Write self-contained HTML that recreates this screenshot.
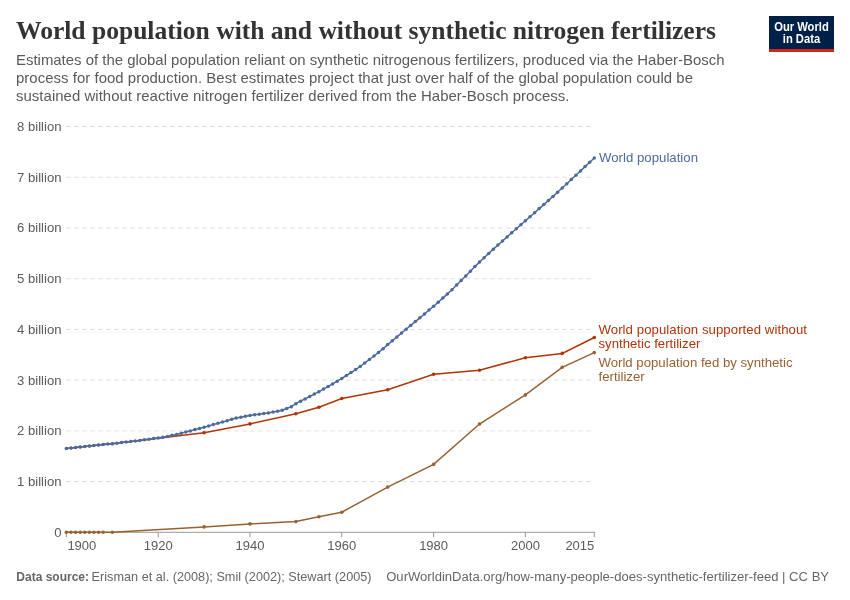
<!DOCTYPE html>
<html><head><meta charset="utf-8">
<style>
html,body{margin:0;padding:0;background:#fff;width:850px;height:600px;overflow:hidden;position:relative}
#wrap{position:absolute;left:0;top:0;width:850px;height:600px;will-change:transform}
.t{position:absolute;white-space:pre;line-height:1}
#title{left:16px;top:18.2px;font-family:"Liberation Serif",serif;font-weight:bold;font-size:25.55px;color:#333333}
#sub{left:16px;top:51.4px;font-family:"Liberation Sans",sans-serif;font-size:14.95px;color:#5b5b5b;line-height:17.8px}
#logo{position:absolute;left:769px;top:16px;width:65px;height:36px;background:#002147}
#logo .bar{position:absolute;left:0;bottom:0;width:100%;height:3px;background:#ce261e}
#logo .tx{position:absolute;left:0;top:4.6px;width:100%;text-align:center;font-family:"Liberation Sans",sans-serif;font-weight:bold;font-size:12px;line-height:12.2px;color:#fff;transform:scaleX(0.935);transform-origin:50% 0}
#footb{left:16.3px;top:570.6px;font-family:"Liberation Sans",sans-serif;font-weight:bold;font-size:12px;color:#666}
#foot{left:91.6px;top:571px;font-family:"Liberation Sans",sans-serif;font-size:12.7px;color:#666}
#foot2{left:386.2px;top:570px;font-family:"Liberation Sans",sans-serif;font-size:13.08px;color:#666}
</style></head><body><div id="wrap">
<svg width="850" height="600" viewBox="0 0 850 600" style="position:absolute;left:0;top:0">
<g stroke="#dddddd" stroke-width="1" stroke-dasharray="4,4"><line x1="66.4" y1="481.6" x2="592" y2="481.6"/><line x1="66.4" y1="430.9" x2="592" y2="430.9"/><line x1="66.4" y1="380.1" x2="592" y2="380.1"/><line x1="66.4" y1="329.4" x2="592" y2="329.4"/><line x1="66.4" y1="278.7" x2="592" y2="278.7"/><line x1="66.4" y1="228.0" x2="592" y2="228.0"/><line x1="66.4" y1="177.3" x2="592" y2="177.3"/><line x1="66.4" y1="126.5" x2="592" y2="126.5"/></g>
<g font-family="Liberation Sans, sans-serif" font-size="13.1" fill="#5b5b5b" text-anchor="end"><text x="61.5" y="536.7">0</text><text x="61.5" y="486.0">1 billion</text><text x="61.5" y="435.3">2 billion</text><text x="61.5" y="384.5">3 billion</text><text x="61.5" y="333.8">4 billion</text><text x="61.5" y="283.1">5 billion</text><text x="61.5" y="232.4">6 billion</text><text x="61.5" y="181.7">7 billion</text><text x="61.5" y="130.9">8 billion</text></g>
<line x1="66.4" y1="532.3" x2="594.8" y2="532.3" stroke="#999" stroke-width="1"/>
<g stroke="#999" stroke-width="1"><line x1="66.4" y1="532.3" x2="66.4" y2="537.3"/><line x1="158.2" y1="532.3" x2="158.2" y2="537.3"/><line x1="250.0" y1="532.3" x2="250.0" y2="537.3"/><line x1="341.8" y1="532.3" x2="341.8" y2="537.3"/><line x1="433.6" y1="532.3" x2="433.6" y2="537.3"/><line x1="525.4" y1="532.3" x2="525.4" y2="537.3"/><line x1="594.3" y1="532.3" x2="594.3" y2="537.3"/></g>
<g font-family="Liberation Sans, sans-serif" font-size="13" fill="#5b5b5b"><text x="67.4" y="550.3" text-anchor="start">1900</text><text x="158.2" y="550.3" text-anchor="middle">1920</text><text x="250.0" y="550.3" text-anchor="middle">1940</text><text x="341.8" y="550.3" text-anchor="middle">1960</text><text x="433.6" y="550.3" text-anchor="middle">1980</text><text x="525.4" y="550.3" text-anchor="middle">2000</text><text x="594.3" y="550.3" text-anchor="end">2015</text></g>
<path d="M66.4,532.3 L71.0,532.3 L75.6,532.3 L80.2,532.3 L84.8,532.3 L89.4,532.3 L93.9,532.3 L98.5,532.3 L103.1,532.3 L112.3,532.3 L204.1,526.9 L250.0,523.9 L295.9,521.6 L318.9,516.7 L341.8,512.2 L387.7,487.1 L433.6,464.4 L479.5,424.0 L525.4,394.9 L562.2,367.3 L594.3,352.6" fill="none" stroke="#976233" stroke-width="1.5"/>
<g fill="#976233"><circle cx="66.4" cy="532.3" r="1.8"/><circle cx="71.0" cy="532.3" r="1.8"/><circle cx="75.6" cy="532.3" r="1.8"/><circle cx="80.2" cy="532.3" r="1.8"/><circle cx="84.8" cy="532.3" r="1.8"/><circle cx="89.4" cy="532.3" r="1.8"/><circle cx="93.9" cy="532.3" r="1.8"/><circle cx="98.5" cy="532.3" r="1.8"/><circle cx="103.1" cy="532.3" r="1.8"/><circle cx="112.3" cy="532.3" r="1.8"/><circle cx="204.1" cy="526.9" r="1.8"/><circle cx="250.0" cy="523.9" r="1.8"/><circle cx="295.9" cy="521.6" r="1.8"/><circle cx="318.9" cy="516.7" r="1.8"/><circle cx="341.8" cy="512.2" r="1.8"/><circle cx="387.7" cy="487.1" r="1.8"/><circle cx="433.6" cy="464.4" r="1.8"/><circle cx="479.5" cy="424.0" r="1.8"/><circle cx="525.4" cy="394.9" r="1.8"/><circle cx="562.2" cy="367.3" r="1.8"/><circle cx="594.3" cy="352.6" r="1.8"/></g>
<path d="M66.4,448.6 L71.0,448.0 L75.6,447.6 L80.2,447.1 L84.8,446.6 L89.4,446.0 L93.9,445.6 L98.5,445.1 L103.1,444.6 L112.3,443.8 L204.1,432.7 L250.0,423.9 L295.9,413.8 L318.9,407.2 L341.8,398.5 L387.7,389.7 L433.6,374.2 L479.5,370.2 L525.4,357.7 L562.2,353.4 L594.3,337.5" fill="none" stroke="#B13507" stroke-width="1.5"/>
<g fill="#B13507"><circle cx="66.4" cy="448.6" r="1.5"/><circle cx="71.0" cy="448.0" r="1.5"/><circle cx="75.6" cy="447.6" r="1.5"/><circle cx="80.2" cy="447.1" r="1.5"/><circle cx="84.8" cy="446.6" r="1.5"/><circle cx="89.4" cy="446.0" r="1.5"/><circle cx="93.9" cy="445.6" r="1.5"/><circle cx="98.5" cy="445.1" r="1.5"/><circle cx="103.1" cy="444.6" r="1.5"/><circle cx="112.3" cy="443.8" r="1.5"/><circle cx="204.1" cy="432.7" r="1.8"/><circle cx="250.0" cy="423.9" r="1.8"/><circle cx="295.9" cy="413.8" r="1.8"/><circle cx="318.9" cy="407.2" r="1.8"/><circle cx="341.8" cy="398.5" r="1.8"/><circle cx="387.7" cy="389.7" r="1.8"/><circle cx="433.6" cy="374.2" r="1.8"/><circle cx="479.5" cy="370.2" r="1.8"/><circle cx="525.4" cy="357.7" r="1.8"/><circle cx="562.2" cy="353.4" r="1.8"/><circle cx="594.3" cy="337.5" r="1.8"/></g>
<path d="M66.4,448.6 L71.0,448.0 L75.6,447.6 L80.2,447.1 L84.8,446.6 L89.4,446.0 L93.9,445.6 L98.5,445.1 L103.1,444.6 L107.7,444.1 L112.3,443.8 L116.9,443.2 L121.5,442.6 L126.1,442.0 L130.7,441.5 L135.3,441.1 L139.8,440.5 L144.4,439.8 L149.0,439.2 L153.6,438.6 L158.2,437.9 L162.8,437.3 L167.4,436.5 L172.0,435.3 L176.6,434.4 L181.2,433.3 L185.8,431.9 L190.3,430.9 L194.9,429.6 L199.5,428.5 L204.1,427.3 L208.7,426.0 L213.3,424.6 L217.9,423.3 L222.5,422.1 L227.1,420.7 L231.7,419.2 L236.2,418.1 L240.8,417.2 L245.4,416.3 L250.0,415.4 L254.6,414.8 L259.2,414.2 L263.8,413.6 L268.4,413.1 L273.0,412.0 L277.6,411.3 L282.2,410.2 L286.7,408.5 L291.3,406.7 L295.9,403.7 L300.5,401.2 L305.1,398.9 L309.7,396.5 L314.3,394.1 L318.9,391.7 L323.5,389.1 L328.1,386.6 L332.6,383.9 L337.2,381.2 L341.8,378.4 L346.4,375.5 L351.0,372.6 L355.6,369.6 L360.2,366.5 L364.8,362.9 L369.4,359.5 L374.0,356.0 L378.5,352.4 L383.1,348.7 L387.7,344.6 L392.3,340.8 L396.9,336.9 L401.5,333.1 L406.1,329.2 L410.7,325.4 L415.3,321.6 L419.9,317.8 L424.5,314.0 L429.0,310.1 L433.6,306.2 L438.2,302.2 L442.8,298.1 L447.4,293.9 L452.0,289.8 L456.6,285.0 L461.2,280.5 L465.8,276.0 L470.4,271.3 L474.9,266.6 L479.5,262.1 L484.1,257.7 L488.7,253.4 L493.3,249.2 L497.9,245.1 L502.5,241.0 L507.1,236.9 L511.7,232.8 L516.3,228.8 L520.9,224.7 L525.4,220.7 L530.0,216.7 L534.6,212.7 L539.2,208.6 L543.8,204.6 L548.4,200.5 L553.0,196.4 L557.6,192.2 L562.2,188.0 L566.8,183.7 L571.3,179.5 L575.9,175.2 L580.5,170.9 L585.1,166.6 L589.7,162.3 L594.3,158.0" fill="none" stroke="#4C6A9C" stroke-width="1.5"/>
<g fill="#4C6A9C"><circle cx="66.4" cy="448.6" r="1.75"/><circle cx="71.0" cy="448.0" r="1.75"/><circle cx="75.6" cy="447.6" r="1.75"/><circle cx="80.2" cy="447.1" r="1.75"/><circle cx="84.8" cy="446.6" r="1.75"/><circle cx="89.4" cy="446.0" r="1.75"/><circle cx="93.9" cy="445.6" r="1.75"/><circle cx="98.5" cy="445.1" r="1.75"/><circle cx="103.1" cy="444.6" r="1.75"/><circle cx="107.7" cy="444.1" r="1.75"/><circle cx="112.3" cy="443.8" r="1.75"/><circle cx="116.9" cy="443.2" r="1.75"/><circle cx="121.5" cy="442.6" r="1.75"/><circle cx="126.1" cy="442.0" r="1.75"/><circle cx="130.7" cy="441.5" r="1.75"/><circle cx="135.3" cy="441.1" r="1.75"/><circle cx="139.8" cy="440.5" r="1.75"/><circle cx="144.4" cy="439.8" r="1.75"/><circle cx="149.0" cy="439.2" r="1.75"/><circle cx="153.6" cy="438.6" r="1.75"/><circle cx="158.2" cy="437.9" r="1.75"/><circle cx="162.8" cy="437.3" r="1.75"/><circle cx="167.4" cy="436.5" r="1.75"/><circle cx="172.0" cy="435.3" r="1.75"/><circle cx="176.6" cy="434.4" r="1.75"/><circle cx="181.2" cy="433.3" r="1.75"/><circle cx="185.8" cy="431.9" r="1.75"/><circle cx="190.3" cy="430.9" r="1.75"/><circle cx="194.9" cy="429.6" r="1.75"/><circle cx="199.5" cy="428.5" r="1.75"/><circle cx="204.1" cy="427.3" r="1.75"/><circle cx="208.7" cy="426.0" r="1.75"/><circle cx="213.3" cy="424.6" r="1.75"/><circle cx="217.9" cy="423.3" r="1.75"/><circle cx="222.5" cy="422.1" r="1.75"/><circle cx="227.1" cy="420.7" r="1.75"/><circle cx="231.7" cy="419.2" r="1.75"/><circle cx="236.2" cy="418.1" r="1.75"/><circle cx="240.8" cy="417.2" r="1.75"/><circle cx="245.4" cy="416.3" r="1.75"/><circle cx="250.0" cy="415.4" r="1.75"/><circle cx="254.6" cy="414.8" r="1.75"/><circle cx="259.2" cy="414.2" r="1.75"/><circle cx="263.8" cy="413.6" r="1.75"/><circle cx="268.4" cy="413.1" r="1.75"/><circle cx="273.0" cy="412.0" r="1.75"/><circle cx="277.6" cy="411.3" r="1.75"/><circle cx="282.2" cy="410.2" r="1.75"/><circle cx="286.7" cy="408.5" r="1.75"/><circle cx="291.3" cy="406.7" r="1.75"/><circle cx="295.9" cy="403.7" r="1.75"/><circle cx="300.5" cy="401.2" r="1.75"/><circle cx="305.1" cy="398.9" r="1.75"/><circle cx="309.7" cy="396.5" r="1.75"/><circle cx="314.3" cy="394.1" r="1.75"/><circle cx="318.9" cy="391.7" r="1.75"/><circle cx="323.5" cy="389.1" r="1.75"/><circle cx="328.1" cy="386.6" r="1.75"/><circle cx="332.6" cy="383.9" r="1.75"/><circle cx="337.2" cy="381.2" r="1.75"/><circle cx="341.8" cy="378.4" r="1.75"/><circle cx="346.4" cy="375.5" r="1.75"/><circle cx="351.0" cy="372.6" r="1.75"/><circle cx="355.6" cy="369.6" r="1.75"/><circle cx="360.2" cy="366.5" r="1.75"/><circle cx="364.8" cy="362.9" r="1.75"/><circle cx="369.4" cy="359.5" r="1.75"/><circle cx="374.0" cy="356.0" r="1.75"/><circle cx="378.5" cy="352.4" r="1.75"/><circle cx="383.1" cy="348.7" r="1.75"/><circle cx="387.7" cy="344.6" r="1.75"/><circle cx="392.3" cy="340.8" r="1.75"/><circle cx="396.9" cy="336.9" r="1.75"/><circle cx="401.5" cy="333.1" r="1.75"/><circle cx="406.1" cy="329.2" r="1.75"/><circle cx="410.7" cy="325.4" r="1.75"/><circle cx="415.3" cy="321.6" r="1.75"/><circle cx="419.9" cy="317.8" r="1.75"/><circle cx="424.5" cy="314.0" r="1.75"/><circle cx="429.0" cy="310.1" r="1.75"/><circle cx="433.6" cy="306.2" r="1.75"/><circle cx="438.2" cy="302.2" r="1.75"/><circle cx="442.8" cy="298.1" r="1.75"/><circle cx="447.4" cy="293.9" r="1.75"/><circle cx="452.0" cy="289.8" r="1.75"/><circle cx="456.6" cy="285.0" r="1.75"/><circle cx="461.2" cy="280.5" r="1.75"/><circle cx="465.8" cy="276.0" r="1.75"/><circle cx="470.4" cy="271.3" r="1.75"/><circle cx="474.9" cy="266.6" r="1.75"/><circle cx="479.5" cy="262.1" r="1.75"/><circle cx="484.1" cy="257.7" r="1.75"/><circle cx="488.7" cy="253.4" r="1.75"/><circle cx="493.3" cy="249.2" r="1.75"/><circle cx="497.9" cy="245.1" r="1.75"/><circle cx="502.5" cy="241.0" r="1.75"/><circle cx="507.1" cy="236.9" r="1.75"/><circle cx="511.7" cy="232.8" r="1.75"/><circle cx="516.3" cy="228.8" r="1.75"/><circle cx="520.9" cy="224.7" r="1.75"/><circle cx="525.4" cy="220.7" r="1.75"/><circle cx="530.0" cy="216.7" r="1.75"/><circle cx="534.6" cy="212.7" r="1.75"/><circle cx="539.2" cy="208.6" r="1.75"/><circle cx="543.8" cy="204.6" r="1.75"/><circle cx="548.4" cy="200.5" r="1.75"/><circle cx="553.0" cy="196.4" r="1.75"/><circle cx="557.6" cy="192.2" r="1.75"/><circle cx="562.2" cy="188.0" r="1.75"/><circle cx="566.8" cy="183.7" r="1.75"/><circle cx="571.3" cy="179.5" r="1.75"/><circle cx="575.9" cy="175.2" r="1.75"/><circle cx="580.5" cy="170.9" r="1.75"/><circle cx="585.1" cy="166.6" r="1.75"/><circle cx="589.7" cy="162.3" r="1.75"/><circle cx="594.3" cy="158.0" r="1.75"/></g>
<g font-family="Liberation Sans, sans-serif" font-size="13.2">
<text x="599" y="162.2" fill="#4C6A9C" textLength="99">World population</text>
<text x="598.5" y="333.6" fill="#B13507" textLength="208.5">World population supported without</text>
<text x="598.5" y="347.9" fill="#B13507">synthetic fertilizer</text>
<text x="598.5" y="366.6" fill="#976233">World population fed by synthetic</text>
<text x="598.5" y="380.6" fill="#976233">fertilizer</text>
</g>
</svg>
<div class="t" id="title">World population with and without synthetic nitrogen fertilizers</div>
<div class="t" id="sub"><span style="letter-spacing:-0.006px">Estimates of the global population reliant on synthetic nitrogenous fertilizers, produced via the Haber-Bosch</span>
<span style="letter-spacing:0.034px">process for food production. Best estimates project that just over half of the global population could be</span>
<span style="letter-spacing:0.036px">sustained without reactive nitrogen fertilizer derived from the Haber-Bosch process.</span></div>
<div id="logo"><div class="tx">Our World<br>in Data</div><div class="bar"></div></div>
<div class="t" id="footb">Data source:</div>
<div class="t" id="foot">Erisman et al. (2008); Smil (2002); Stewart (2005)</div>
<div class="t" id="foot2">OurWorldinData.org/how-many-people-does-synthetic-fertilizer-feed | CC BY</div>
</div></body></html>
